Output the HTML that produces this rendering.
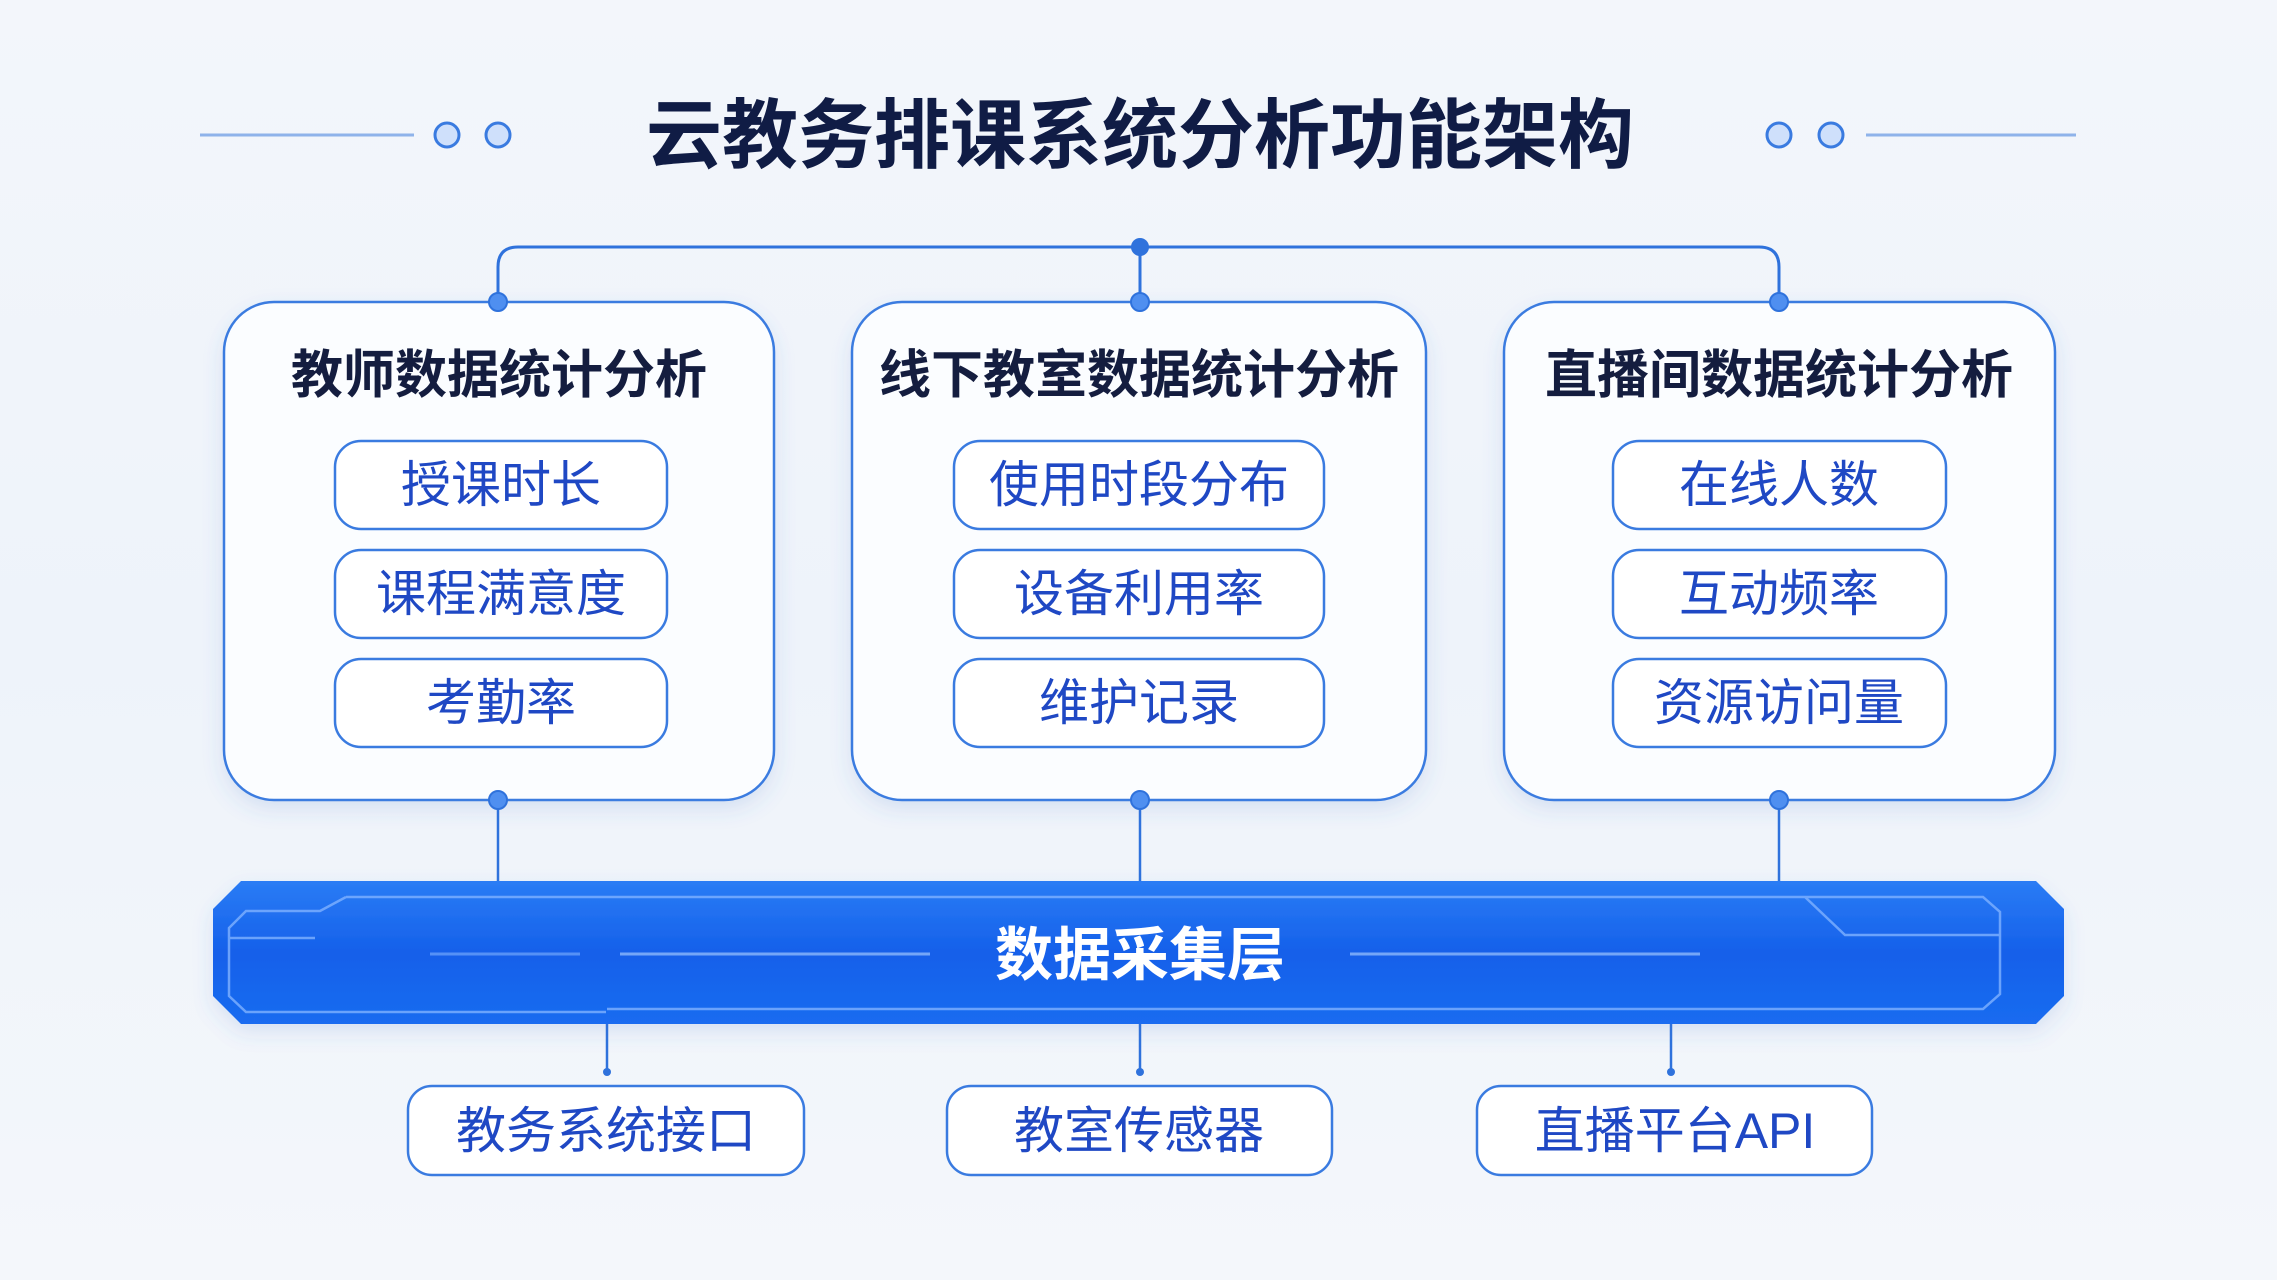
<!DOCTYPE html>
<html><head><meta charset="utf-8"><style>
html,body{margin:0;padding:0;width:2277px;height:1280px;overflow:hidden;}
body{background:linear-gradient(180deg,#f3f6fb 0%,#eef3fa 50%,#f4f7fb 100%);}
svg{display:block}
text{font-family:"Liberation Sans","Noto Sans CJK SC",sans-serif;}
</style></head><body>
<svg width="2277" height="1280" viewBox="0 0 2277 1280" xmlns="http://www.w3.org/2000/svg">
<defs>
<linearGradient id="bar" x1="0" y1="0" x2="0" y2="1">
<stop offset="0" stop-color="#2a7cf5"/><stop offset="0.5" stop-color="#1560ea"/><stop offset="1" stop-color="#1a6cf0"/>
</linearGradient>
<filter id="sh" x="-10%" y="-10%" width="120%" height="130%"><feDropShadow dx="0" dy="8" stdDeviation="10" flood-color="#3a6fc8" flood-opacity="0.15"/></filter>
</defs>
<line x1="200" y1="135" x2="414" y2="135" stroke="#8fb3ea" stroke-width="3"/>
<circle cx="447" cy="135" r="12" fill="#cfe0fb" stroke="#3a7be0" stroke-width="3"/>
<circle cx="498" cy="135" r="12" fill="#cfe0fb" stroke="#3a7be0" stroke-width="3"/>
<circle cx="1779" cy="135" r="12" fill="#cfe0fb" stroke="#3a7be0" stroke-width="3"/>
<circle cx="1831" cy="135" r="12" fill="#cfe0fb" stroke="#3a7be0" stroke-width="3"/>
<line x1="1866" y1="135" x2="2076" y2="135" stroke="#8fb3ea" stroke-width="3"/>
<text x="1140" y="162" text-anchor="middle" font-size="76" font-weight="bold" fill="#101c45">云教务排课系统分析功能架构</text>
<path d="M498 302 V267 Q498 247 518 247 H1759 Q1779 247 1779 267 V302 M1140 247 V302" fill="none" stroke="#2f72dc" stroke-width="3"/>
<circle cx="1140" cy="247" r="9" fill="#2f72dc"/>
<g fill="#fbfdff" stroke="#3a7be0" stroke-width="2.5" filter="url(#sh)">
<rect x="224" y="302" width="550" height="498" rx="50"/>
<rect x="852" y="302" width="574" height="498" rx="50"/>
<rect x="1504" y="302" width="551" height="498" rx="50"/>
</g>
<g fill="#4f8ff0" stroke="#2f72dc" stroke-width="2">
<circle cx="498" cy="302" r="9"/><circle cx="1140" cy="302" r="9"/><circle cx="1779" cy="302" r="9"/>
</g>
<g font-size="52" font-weight="bold" fill="#141d3f" text-anchor="middle">
<text x="499" y="393">教师数据统计分析</text>
<text x="1139" y="393">线下教室数据统计分析</text>
<text x="1779" y="393">直播间数据统计分析</text>
</g>
<g fill="#ffffff" stroke="#3a7be0" stroke-width="2.5">
<rect x="335" y="441" width="332" height="88" rx="26"/><rect x="335" y="550" width="332" height="88" rx="26"/><rect x="335" y="659" width="332" height="88" rx="26"/>
<rect x="954" y="441" width="370" height="88" rx="26"/><rect x="954" y="550" width="370" height="88" rx="26"/><rect x="954" y="659" width="370" height="88" rx="26"/>
<rect x="1613" y="441" width="333" height="88" rx="26"/><rect x="1613" y="550" width="333" height="88" rx="26"/><rect x="1613" y="659" width="333" height="88" rx="26"/>
</g>
<g font-size="50" fill="#1f48c4" text-anchor="middle">
<text x="501" y="502">授课时长</text><text x="501" y="611">课程满意度</text><text x="501" y="720">考勤率</text>
<text x="1139" y="502">使用时段分布</text><text x="1139" y="611">设备利用率</text><text x="1139" y="720">维护记录</text>
<text x="1779" y="502">在线人数</text><text x="1779" y="611">互动频率</text><text x="1779" y="720">资源访问量</text>
</g>
<g stroke="#2f72dc" stroke-width="2.5">
<line x1="498" y1="800" x2="498" y2="881"/><line x1="1140" y1="800" x2="1140" y2="881"/><line x1="1779" y1="800" x2="1779" y2="881"/>
<line x1="607" y1="1024" x2="607" y2="1072"/><line x1="1140" y1="1024" x2="1140" y2="1072"/><line x1="1671" y1="1024" x2="1671" y2="1072"/>
</g>
<g fill="#4f8ff0" stroke="#2f72dc" stroke-width="2">
<circle cx="498" cy="800" r="9"/><circle cx="1140" cy="800" r="9"/><circle cx="1779" cy="800" r="9"/>
</g>
<g fill="#2f72dc"><circle cx="607" cy="1072" r="4"/><circle cx="1140" cy="1072" r="4"/><circle cx="1671" cy="1072" r="4"/></g>
<path d="M241 881 H2036 L2064 909 V996 L2036 1024 H241 L213 996 V909 Z" fill="url(#bar)" filter="url(#sh)"/>
<path d="M346 897 H1983 L2000 912 V994 L1983 1009 H607 M606 1012 H246 L229 996 V928 L246 911 H320 L346 897 M1805 897 L1845 935 H2000 M229 938 H315" fill="none" stroke="#7fb2ff" stroke-width="2.5" opacity="0.8"/>
<line x1="430" y1="954" x2="580" y2="954" stroke="#7fb2ff" stroke-width="3" opacity="0.6"/>
<line x1="620" y1="954" x2="930" y2="954" stroke="#9cc4ff" stroke-width="3" opacity="0.7"/>
<line x1="1350" y1="954" x2="1700" y2="954" stroke="#9cc4ff" stroke-width="3" opacity="0.7"/>
<text x="1140" y="975" text-anchor="middle" font-size="58" font-weight="bold" fill="#ffffff">数据采集层</text>
<g fill="#ffffff" stroke="#3a7be0" stroke-width="2.5">
<rect x="408" y="1086" width="396" height="89" rx="24"/>
<rect x="947" y="1086" width="385" height="89" rx="24"/>
<rect x="1477" y="1086" width="395" height="89" rx="24"/>
</g>
<g font-size="50" fill="#1f48c4" text-anchor="middle">
<text x="606" y="1148">教务系统接口</text>
<text x="1139" y="1148">教室传感器</text>
<text x="1675" y="1148">直播平台API</text>
</g>
</svg>
</body></html>
